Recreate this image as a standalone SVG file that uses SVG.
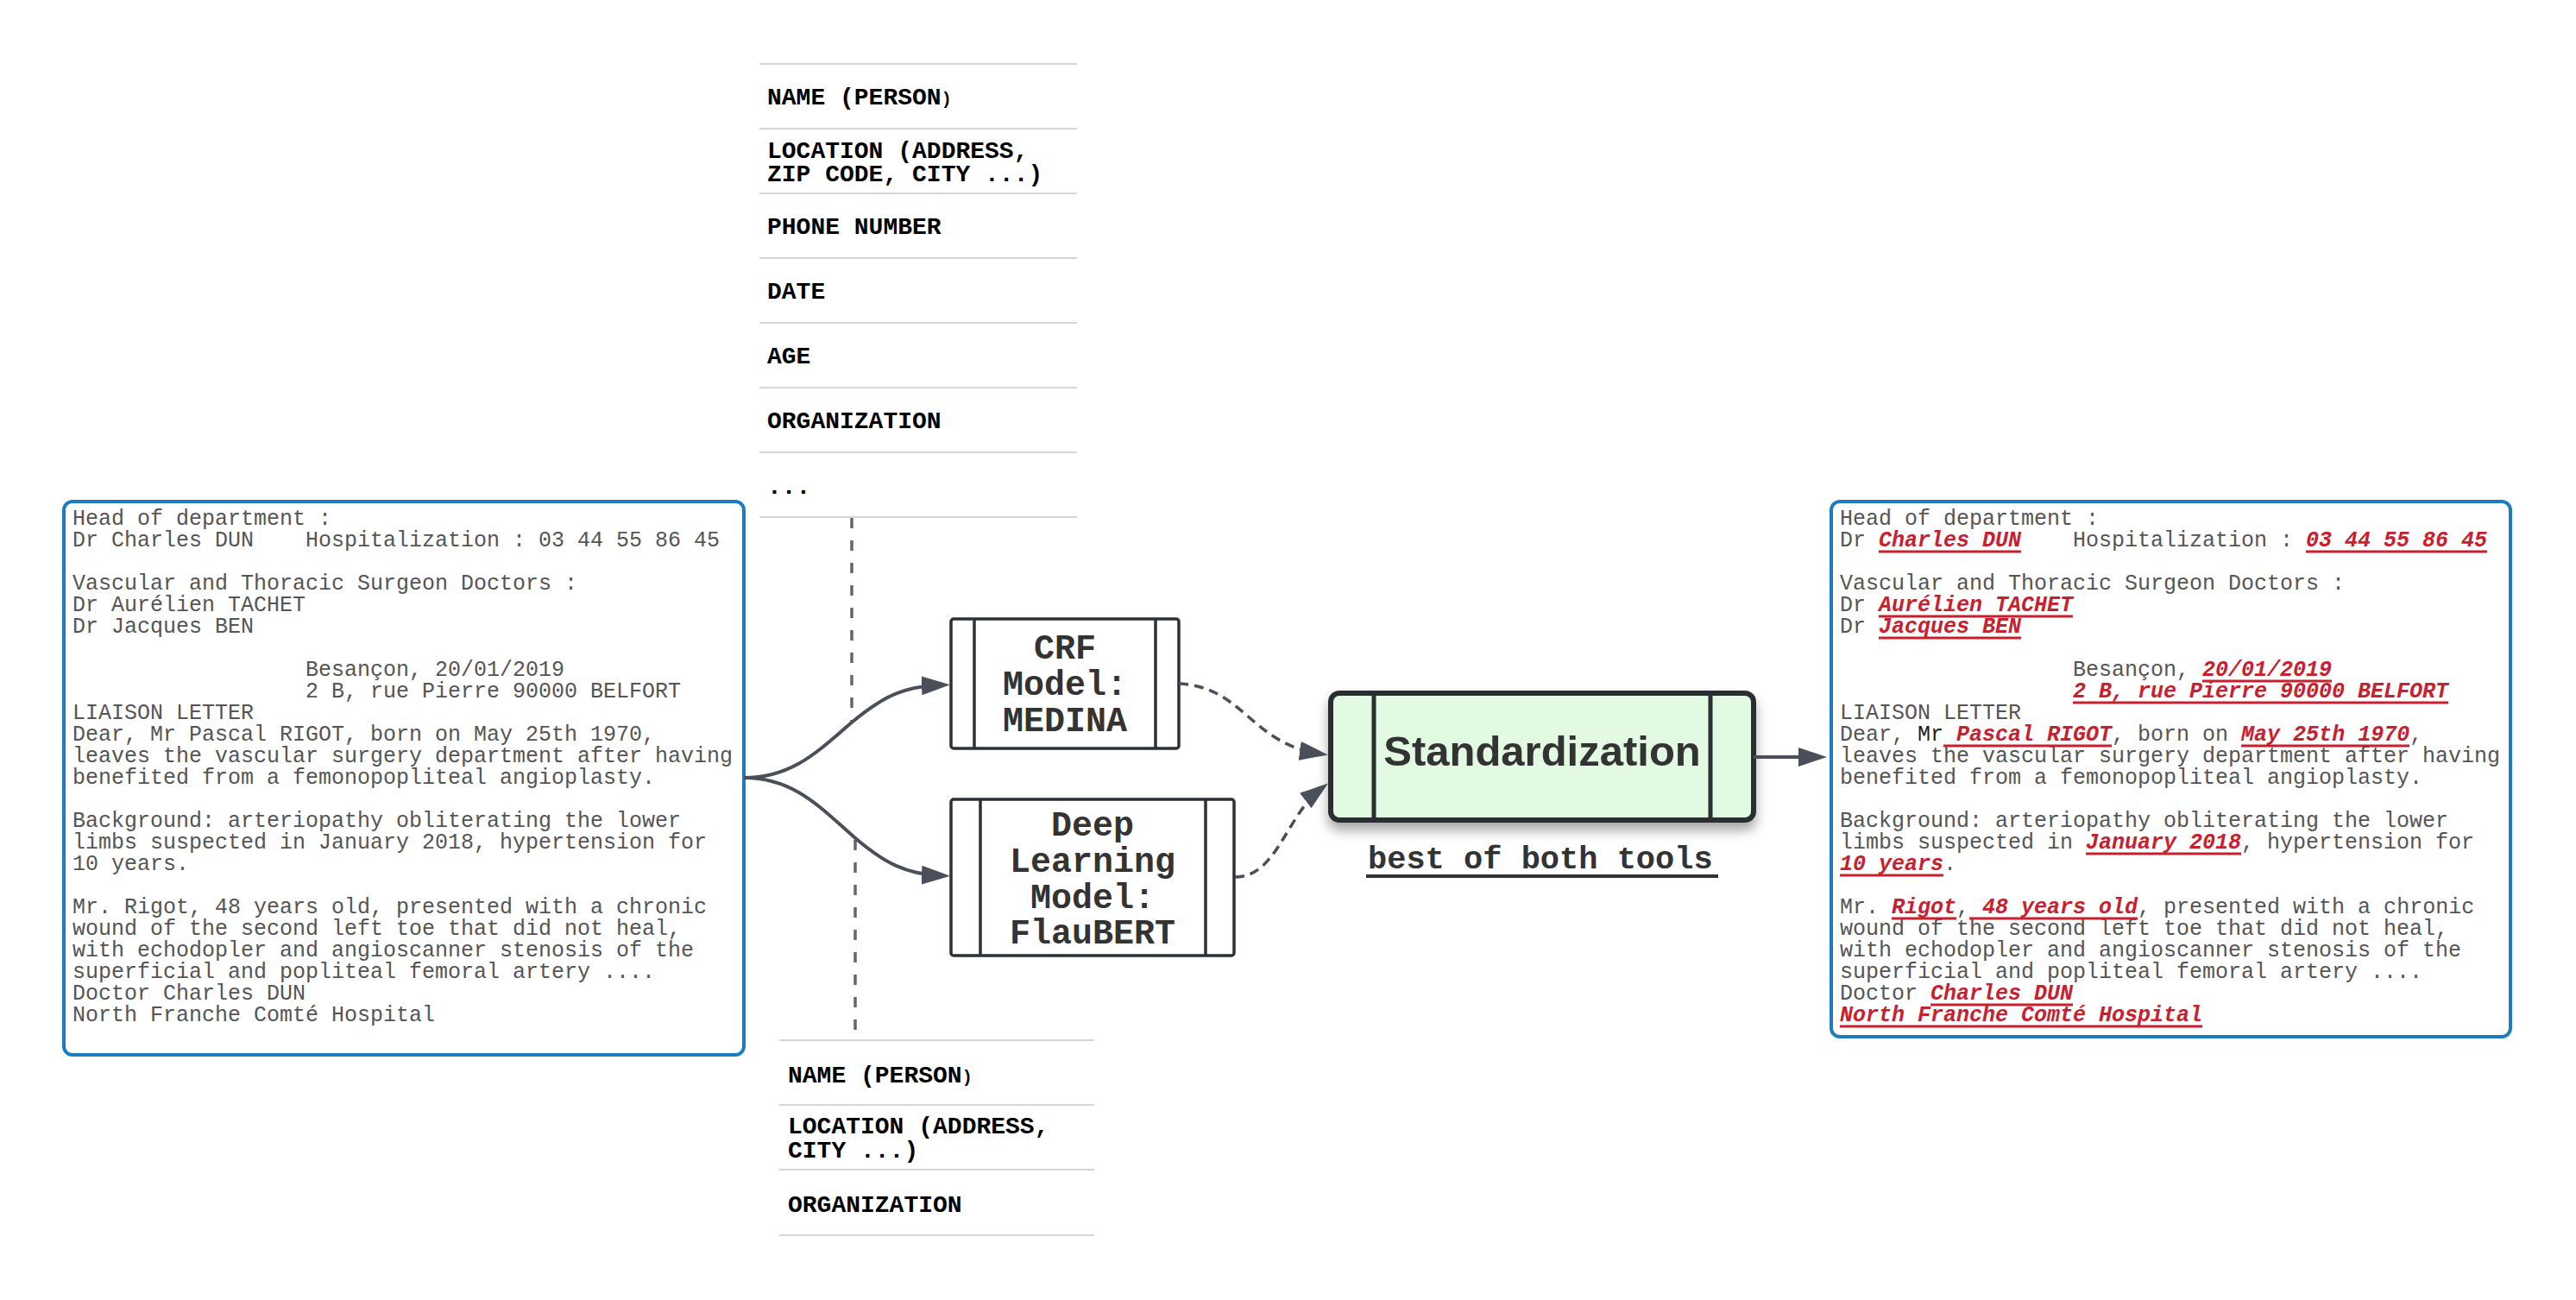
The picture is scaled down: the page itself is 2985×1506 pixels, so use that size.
<svg xmlns="http://www.w3.org/2000/svg" width="2985" height="1506" viewBox="0 0 2985 1506">
<style>
.doc{fill:#fff;stroke:#1c7cc0;stroke-width:4}
.lt{font-family:"Liberation Mono",monospace;font-size:25px;fill:#555;white-space:pre}
.ent{font-weight:bold;font-style:italic;fill:#c8202f}
.ul{stroke:#c8202f;stroke-width:3}
.sep{stroke:#d6d6d6;stroke-width:2}
.lab{font-family:"Liberation Mono",monospace;font-size:28px;font-weight:bold;fill:#000}
.vd{stroke:#666;stroke-width:3.5;stroke-dasharray:12 14;fill:none}
.box{fill:#fff;stroke:#2d3035;stroke-width:3.5}
.bl{stroke:#2d3035;stroke-width:3.5}
.bt{font-family:"Liberation Mono",monospace;font-size:40px;font-weight:bold;fill:#333;text-anchor:middle}
.con{fill:none;stroke:#4a4f59;stroke-width:4}
.dcon{fill:none;stroke:#4a4f59;stroke-width:3.5;stroke-dasharray:11 7}
</style>
<defs>
<marker id="ah" markerUnits="userSpaceOnUse" markerWidth="34" markerHeight="22" refX="23" refY="11" orient="auto"><path d="M0,0 L33,11 L0,22 z" fill="#4a4f59"/></marker>
<filter id="sh" x="-20%" y="-20%" width="140%" height="160%"><feDropShadow dx="0" dy="9" stdDeviation="7" flood-color="#000" flood-opacity="0.35"/></filter>
</defs>

<g id="input-letter">
<rect class="doc" x="74" y="581" width="788" height="641" rx="10"/>
<g class="lt">
<text x="84" y="608">Head of department :</text>
<text x="84" y="633">Dr Charles DUN<tspan x="354">Hospitalization : 03 44 55 86 45</tspan></text>
<text x="84" y="683">Vascular and Thoracic Surgeon Doctors :</text>
<text x="84" y="708">Dr Aurélien TACHET</text>
<text x="84" y="733">Dr Jacques BEN</text>
<text x="354" y="783">Besançon, 20/01/2019</text>
<text x="354" y="808">2 B, rue Pierre 90000 BELFORT</text>
<text x="84" y="833">LIAISON LETTER</text>
<text x="84" y="858">Dear, Mr Pascal RIGOT, born on May 25th 1970,</text>
<text x="84" y="883">leaves the vascular surgery department after having</text>
<text x="84" y="908">benefited from a femonopopliteal angioplasty.</text>
<text x="84" y="958">Background: arteriopathy obliterating the lower</text>
<text x="84" y="983">limbs suspected in January 2018, hypertension for</text>
<text x="84" y="1008">10 years.</text>
<text x="84" y="1058">Mr. Rigot, 48 years old, presented with a chronic</text>
<text x="84" y="1083">wound of the second left toe that did not heal,</text>
<text x="84" y="1108">with echodopler and angioscanner stenosis of the</text>
<text x="84" y="1133">superficial and popliteal femoral artery ....</text>
<text x="84" y="1158">Doctor Charles DUN</text>
<text x="84" y="1183">North Franche Comté Hospital</text>
</g>
</g>

<g id="entity-list-crf">
<line class="sep" x1="880" y1="74" x2="1248" y2="74"/>
<line class="sep" x1="880" y1="149" x2="1248" y2="149"/>
<line class="sep" x1="880" y1="224" x2="1248" y2="224"/>
<line class="sep" x1="880" y1="299" x2="1248" y2="299"/>
<line class="sep" x1="880" y1="374" x2="1248" y2="374"/>
<line class="sep" x1="880" y1="449" x2="1248" y2="449"/>
<line class="sep" x1="880" y1="524" x2="1248" y2="524"/>
<line class="sep" x1="880" y1="599" x2="1248" y2="599"/>
<text class="lab" x="889" y="121">NAME (PERSON<tspan font-size="20">)</tspan></text>
<text class="lab" x="889" y="183">LOCATION (ADDRESS,</text>
<text class="lab" x="889" y="210">ZIP CODE, CITY ...)</text>
<text class="lab" x="889" y="271">PHONE NUMBER</text>
<text class="lab" x="889" y="346">DATE</text>
<text class="lab" x="889" y="421">AGE</text>
<text class="lab" x="889" y="496">ORGANIZATION</text>
<text class="lab" x="889" y="572">...</text>
</g>

<g id="entity-list-flaubert">
<line class="sep" x1="903" y1="1205" x2="1268" y2="1205"/>
<line class="sep" x1="903" y1="1280" x2="1268" y2="1280"/>
<line class="sep" x1="903" y1="1355" x2="1268" y2="1355"/>
<line class="sep" x1="903" y1="1431" x2="1268" y2="1431"/>
<text class="lab" x="913" y="1254">NAME (PERSON<tspan font-size="20">)</tspan></text>
<text class="lab" x="913" y="1313">LOCATION (ADDRESS,</text>
<text class="lab" x="913" y="1341">CITY ...)</text>
<text class="lab" x="913" y="1404">ORGANIZATION</text>
</g>

<g id="crf-model">
<rect class="box" x="1102" y="717" width="264" height="150" rx="3"/>
<line class="bl" x1="1129" y1="717" x2="1129" y2="867"/>
<line class="bl" x1="1339" y1="717" x2="1339" y2="867"/>
<text class="bt" x="1234" y="763">CRF</text>
<text class="bt" x="1234" y="805">Model:</text>
<text class="bt" x="1234" y="847">MEDINA</text>
</g>

<g id="dl-model">
<rect class="box" x="1102" y="926" width="328" height="181" rx="3"/>
<line class="bl" x1="1136" y1="926" x2="1136" y2="1107"/>
<line class="bl" x1="1397" y1="926" x2="1397" y2="1107"/>
<text class="bt" x="1266" y="968">Deep</text>
<text class="bt" x="1266" y="1010">Learning</text>
<text class="bt" x="1266" y="1052">Model:</text>
<text class="bt" x="1266" y="1093">FlauBERT</text>
</g>

<g id="standardization">
<rect x="1542" y="803" width="490" height="147" rx="10" fill="#e2f9e2" stroke="#2b2e33" stroke-width="6" filter="url(#sh)"/>
<line x1="1592" y1="803" x2="1592" y2="950" stroke="#2b2e33" stroke-width="5"/>
<line x1="1982" y1="803" x2="1982" y2="950" stroke="#2b2e33" stroke-width="5"/>
<text x="1787" y="887" text-anchor="middle" font-family="Liberation Sans, Arial, sans-serif" font-size="49" font-weight="bold" fill="#333">Standardization</text>
<text x="1585" y="1006" font-family="Liberation Mono, monospace" font-size="37" font-weight="bold" fill="#333">best of both tools</text>
<line x1="1583" y1="1015" x2="1991" y2="1015" stroke="#333" stroke-width="4"/>
</g>

<g id="output-letter">
<rect class="doc" x="2122" y="581" width="787" height="620" rx="10"/>
<g class="lt">
<text x="2132" y="608">Head of department :</text>
<text x="2132" y="633">Dr <tspan class="ent">Charles DUN</tspan><tspan x="2402">Hospitalization :</tspan><tspan x="2672" class="ent">03 44 55 86 45</tspan></text>
<text x="2132" y="683">Vascular and Thoracic Surgeon Doctors :</text>
<text x="2132" y="708">Dr <tspan class="ent">Aurélien TACHET</tspan></text>
<text x="2132" y="733">Dr <tspan class="ent">Jacques BEN</tspan></text>
<text x="2402" y="783">Besançon, <tspan class="ent">20/01/2019</tspan></text>
<text x="2402" y="808" class="ent">2 B, rue Pierre 90000 BELFORT</text>
<text x="2132" y="833">LIAISON LETTER</text>
<text x="2132" y="858">Dear, <tspan fill="#1e1e1e">Mr</tspan> <tspan class="ent">Pascal RIGOT</tspan>, born on <tspan class="ent">May 25th 1970</tspan>,</text>
<text x="2132" y="883">leaves the vascular surgery department after having</text>
<text x="2132" y="908">benefited from a femonopopliteal angioplasty.</text>
<text x="2132" y="958">Background: arteriopathy obliterating the lower</text>
<text x="2132" y="983">limbs suspected in <tspan class="ent">January 2018</tspan>, hypertension for</text>
<text x="2132" y="1008"><tspan class="ent">10 years</tspan>.</text>
<text x="2132" y="1058">Mr. <tspan class="ent">Rigot</tspan>, <tspan class="ent">48 years old</tspan>, presented with a chronic</text>
<text x="2132" y="1083">wound of the second left toe that did not heal,</text>
<text x="2132" y="1108">with echodopler and angioscanner stenosis of the</text>
<text x="2132" y="1133">superficial and popliteal femoral artery ....</text>
<text x="2132" y="1158">Doctor <tspan class="ent">Charles DUN</tspan></text>
<text x="2132" y="1183" class="ent">North Franche Comté Hospital</text>
</g>
<g>
<line class="ul" x1="2177" y1="639" x2="2342" y2="639"/>
<line class="ul" x1="2672" y1="639" x2="2882" y2="639"/>
<line class="ul" x1="2177" y1="714" x2="2402" y2="714"/>
<line class="ul" x1="2177" y1="739" x2="2342" y2="739"/>
<line class="ul" x1="2552" y1="789" x2="2702" y2="789"/>
<line class="ul" x1="2402" y1="814" x2="2837" y2="814"/>
<line class="ul" x1="2252" y1="864" x2="2447" y2="864"/>
<line class="ul" x1="2597" y1="864" x2="2792" y2="864"/>
<line class="ul" x1="2417" y1="989" x2="2597" y2="989"/>
<line class="ul" x1="2132" y1="1014" x2="2252" y2="1014"/>
<line class="ul" x1="2192" y1="1064" x2="2267" y2="1064"/>
<line class="ul" x1="2282" y1="1064" x2="2477" y2="1064"/>
<line class="ul" x1="2237" y1="1164" x2="2402" y2="1164"/>
<line class="ul" x1="2132" y1="1189" x2="2552" y2="1189"/>
</g>
</g>

<g id="connectors">
<line class="vd" x1="987" y1="600" x2="987" y2="836"/>
<line class="vd" x1="991" y1="973" x2="991" y2="1204"/>
<path class="con" d="M862,901 C920,901 950,868 988,836 C1025,805 1050,795 1091,793.5" marker-end="url(#ah)"/>
<path class="con" d="M862,901 C920,901 950,935 990,970 C1025,1000 1050,1013 1091,1014.5" marker-end="url(#ah)"/>
<path class="dcon" d="M1366,792 C1440,795 1450,862 1529,873" marker-end="url(#ah)"/>
<path class="dcon" d="M1431,1016 C1480,1016 1490,945 1531,913.5" marker-end="url(#ah)"/>
<path class="con" d="M2032,877 L2107,877" marker-end="url(#ah)"/>
</g>
</svg>
